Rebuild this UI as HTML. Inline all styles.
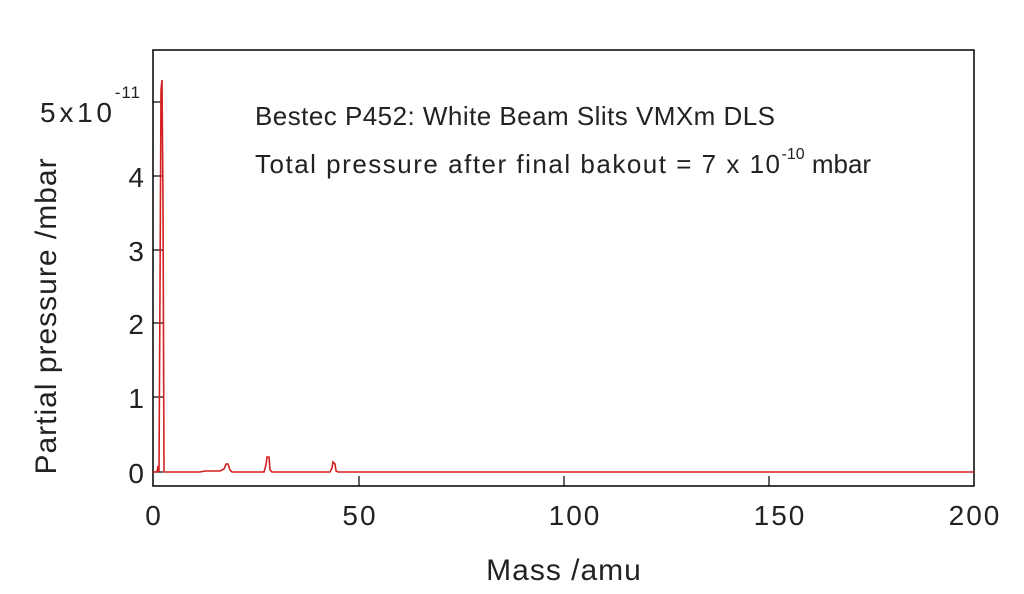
<!DOCTYPE html>
<html><head><style>body{margin:0;background:#fff}</style></head><body>
<svg width="1024" height="589" xmlns="http://www.w3.org/2000/svg" font-family="Liberation Sans, sans-serif">
<rect x="153" y="50" width="821" height="436" fill="none" stroke="#000" stroke-width="1.5"/>
<g stroke="#000" stroke-width="1.2">
<line x1="153" y1="472" x2="163" y2="472"/><line x1="153" y1="397" x2="163" y2="397"/>
<line x1="153" y1="323" x2="163" y2="323"/><line x1="153" y1="250" x2="163" y2="250"/>
<line x1="153" y1="176" x2="163" y2="176"/><line x1="153" y1="102" x2="163" y2="102"/>
<line x1="359" y1="486" x2="359" y2="476"/><line x1="564" y1="486" x2="564" y2="476"/>
<line x1="769" y1="486" x2="769" y2="476"/>
</g>
<g font-size="28" fill="#222" text-anchor="end" letter-spacing="1">
<text x="145" y="483">0</text><text x="145" y="408">1</text><text x="145" y="334">2</text>
<text x="145" y="261">3</text><text x="145" y="187">4</text>
<text x="114" y="122" letter-spacing="2" textLength="74">5x10</text><text x="141" y="98" font-size="17">-11</text>
</g>
<g font-size="28" fill="#222" text-anchor="middle" letter-spacing="2">
<text x="154" y="525">0</text><text x="360" y="525">50</text><text x="575" y="525">100</text>
<text x="780" y="525">150</text><text x="975" y="525">200</text>
</g>
<g fill="#222" text-anchor="middle">
<text x="564" y="580" font-size="30" letter-spacing="1">Mass /amu</text>
<text transform="translate(56,316) rotate(-90)" font-size="30" letter-spacing="1">Partial pressure /mbar</text>
</g>
<g font-size="26" fill="#222">
<text x="255" y="125" textLength="520">Bestec P452: White Beam Slits VMXm DLS</text>
<text x="255" y="173"><tspan textLength="525">Total pressure after final bakout = 7 x 10</tspan><tspan dy="-14" font-size="16">-10</tspan><tspan dy="14"> mbar</tspan></text>
</g>
<polyline fill="none" stroke="#d42020" stroke-width="1.6" points="153,472 157,472 158,466 159,472 160,290 161,90 162,80 163,200 164,472 200,472 205,471 220,471 224,469 226,464 228,464 230,470 232,472 264,472 266,465 267,457 269,457 270,470 272,472 330,472 332,468 333,462 335,464 336,471 338,472 974,472"/>
</svg>
</body></html>
